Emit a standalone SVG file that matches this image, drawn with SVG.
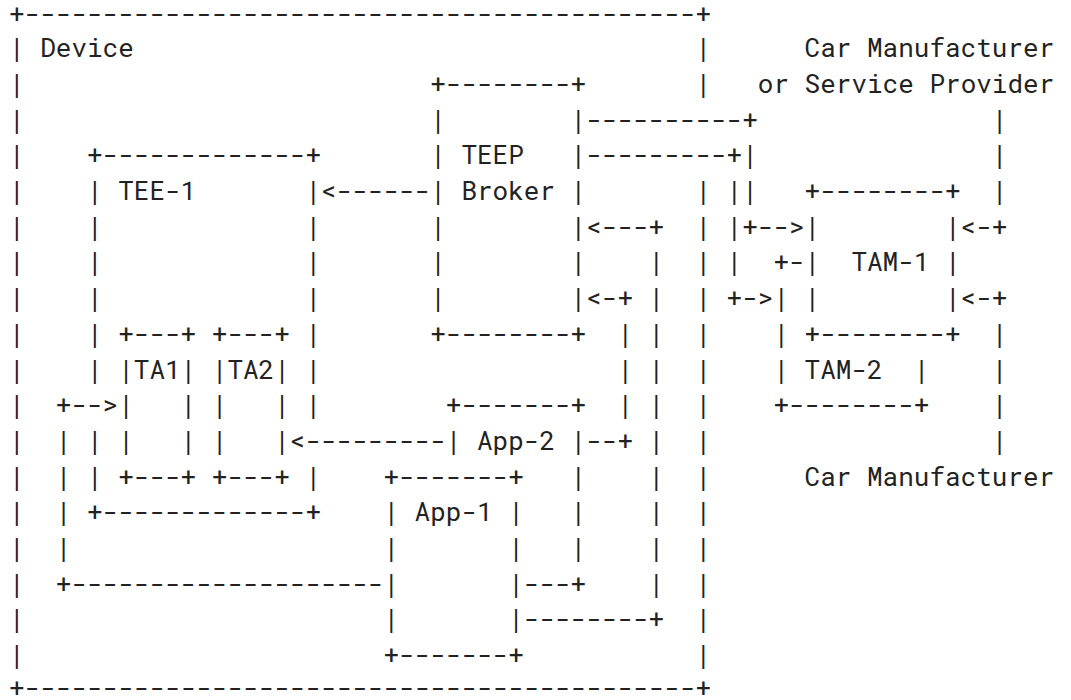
<svg xmlns="http://www.w3.org/2000/svg" width="1071" height="700" viewBox="0 0 1071 700">
<style>
text{font-family:"Roboto Mono","Liberation Mono","DejaVu Sans Mono",monospace;font-size:26px;fill:#222;}
</style>
<rect width="1071" height="700" fill="#fff"/>
<g id="device">
<text x="9" y="23">+-------------------------------------------+</text>
<text x="9" y="697">+-------------------------------------------+</text>
<text x="40.2" y="57.2">Device</text>
<text><tspan x="9" y="57.2">|</tspan><tspan x="9" y="92.9">|</tspan><tspan x="9" y="128.6">|</tspan><tspan x="9" y="164.3">|</tspan><tspan x="9" y="200">|</tspan><tspan x="9" y="235.7">|</tspan><tspan x="9" y="271.4">|</tspan><tspan x="9" y="307.1">|</tspan><tspan x="9" y="342.8">|</tspan><tspan x="9" y="378.5">|</tspan><tspan x="9" y="414.2">|</tspan><tspan x="9" y="449.9">|</tspan><tspan x="9" y="485.6">|</tspan><tspan x="9" y="521.3">|</tspan><tspan x="9" y="557">|</tspan><tspan x="9" y="592.7">|</tspan><tspan x="9" y="628.4">|</tspan><tspan x="9" y="664.1">|</tspan></text>
<text><tspan x="695.4" y="57.2">|</tspan><tspan x="695.4" y="92.9">|</tspan><tspan x="695.4" y="200">|</tspan><tspan x="695.4" y="235.7">|</tspan><tspan x="695.4" y="271.4">|</tspan><tspan x="695.4" y="307.1">|</tspan><tspan x="695.4" y="342.8">|</tspan><tspan x="695.4" y="378.5">|</tspan><tspan x="695.4" y="414.2">|</tspan><tspan x="695.4" y="449.9">|</tspan><tspan x="695.4" y="485.6">|</tspan><tspan x="695.4" y="521.3">|</tspan><tspan x="695.4" y="557">|</tspan><tspan x="695.4" y="592.7">|</tspan><tspan x="695.4" y="628.4">|</tspan><tspan x="695.4" y="664.1">|</tspan></text>
</g>
<g id="teep-broker">
<text x="430.2" y="92.9">+--------+</text>
<text x="430.2" y="342.8">+--------+</text>
<text x="461.4" y="164.3">TEEP</text>
<text x="461.4" y="200">Broker</text>
<text><tspan x="430.2" y="128.6">|</tspan><tspan x="430.2" y="164.3">|</tspan><tspan x="430.2" y="200">|</tspan><tspan x="430.2" y="235.7">|</tspan><tspan x="430.2" y="271.4">|</tspan><tspan x="430.2" y="307.1">|</tspan></text>
<text><tspan x="570.6" y="128.6">|</tspan><tspan x="570.6" y="164.3">|</tspan><tspan x="570.6" y="200">|</tspan><tspan x="570.6" y="235.7">|</tspan><tspan x="570.6" y="271.4">|</tspan><tspan x="570.6" y="307.1">|</tspan></text>
</g>
<g id="tee-1">
<text x="87" y="164.3">+-------------+</text>
<text x="87" y="521.3">+-------------+</text>
<text x="118.2" y="200">TEE-1</text>
<text><tspan x="87" y="200">|</tspan><tspan x="87" y="235.7">|</tspan><tspan x="87" y="271.4">|</tspan><tspan x="87" y="307.1">|</tspan><tspan x="87" y="342.8">|</tspan><tspan x="87" y="378.5">|</tspan><tspan x="87" y="449.9">|</tspan><tspan x="87" y="485.6">|</tspan></text>
<text><tspan x="305.4" y="200">|</tspan><tspan x="305.4" y="235.7">|</tspan><tspan x="305.4" y="271.4">|</tspan><tspan x="305.4" y="307.1">|</tspan><tspan x="305.4" y="342.8">|</tspan><tspan x="305.4" y="378.5">|</tspan><tspan x="305.4" y="414.2">|</tspan><tspan x="305.4" y="485.6">|</tspan></text>
</g>
<g id="ta1">
<text x="118.2" y="342.8">+---+</text>
<text x="118.2" y="378.5">|TA1|</text>
<text x="118.2" y="485.6">+---+</text>
<text><tspan x="118.2" y="414.2">|</tspan><tspan x="118.2" y="449.9">|</tspan><tspan x="180.6" y="414.2">|</tspan><tspan x="180.6" y="449.9">|</tspan></text>
</g>
<g id="ta2">
<text x="211.8" y="342.8">+---+</text>
<text x="211.8" y="378.5">|TA2|</text>
<text x="211.8" y="485.6">+---+</text>
<text><tspan x="211.8" y="414.2">|</tspan><tspan x="211.8" y="449.9">|</tspan><tspan x="274.2" y="414.2">|</tspan><tspan x="274.2" y="449.9">|</tspan></text>
</g>
<g id="app-2">
<text x="445.8" y="414.2">+-------+</text>
<text x="445.8" y="449.9">|</text>
<text x="477" y="449.9">App-2</text>
<text><tspan x="570.6" y="449.9">|</tspan><tspan x="570.6" y="485.6">|</tspan><tspan x="570.6" y="521.3">|</tspan><tspan x="570.6" y="557">|</tspan></text>
<text x="523.8" y="592.7">---+</text>
</g>
<g id="app-1">
<text x="383.4" y="485.6">+-------+</text>
<text x="383.4" y="664.1">+-------+</text>
<text x="414.6" y="521.3">App-1</text>
<text><tspan x="383.4" y="521.3">|</tspan><tspan x="383.4" y="557">|</tspan><tspan x="383.4" y="592.7">|</tspan><tspan x="383.4" y="628.4">|</tspan></text>
<text><tspan x="508.2" y="521.3">|</tspan><tspan x="508.2" y="557">|</tspan><tspan x="508.2" y="592.7">|</tspan><tspan x="508.2" y="628.4">|</tspan></text>
</g>
<g id="tam-1">
<text x="804.6" y="200">+--------+</text>
<text x="804.6" y="342.8">+--------+</text>
<text x="851.4" y="271.4">TAM-1</text>
<text><tspan x="804.6" y="235.7">|</tspan><tspan x="804.6" y="271.4">|</tspan><tspan x="804.6" y="307.1">|</tspan><tspan x="945" y="235.7">|</tspan><tspan x="945" y="271.4">|</tspan><tspan x="945" y="307.1">|</tspan></text>
</g>
<g id="tam-2">
<text x="773.4" y="271.4">+-</text>
<text x="773.4" y="414.2">+--------+</text>
<text x="804.6" y="378.5">TAM-2</text>
<text><tspan x="773.4" y="307.1">|</tspan><tspan x="773.4" y="342.8">|</tspan><tspan x="773.4" y="378.5">|</tspan><tspan x="913.8" y="378.5">|</tspan></text>
</g>
<g id="car-manufacturer-or-service-provider">
<text x="804.6" y="57.2">Car Manufacturer</text>
<text x="757.8" y="92.9">or Service Provider</text>
</g>
<g id="car-manufacturer">
<text x="804.6" y="485.6">Car Manufacturer</text>
</g>
<g id="connectors">
<text x="321" y="200">&lt;------</text>
<text x="586.2" y="128.6">----------+</text>
<text><tspan x="742.2" y="164.3">|</tspan><tspan x="742.2" y="200">|</tspan></text>
<text x="742.2" y="235.7">+--&gt;</text>
<text x="586.2" y="164.3">---------+</text>
<text><tspan x="726.6" y="200">|</tspan><tspan x="726.6" y="235.7">|</tspan><tspan x="726.6" y="271.4">|</tspan></text>
<text x="726.6" y="307.1">+-&gt;</text>
<text x="586.2" y="235.7">&lt;---+</text>
<text><tspan x="648.6" y="271.4">|</tspan><tspan x="648.6" y="307.1">|</tspan><tspan x="648.6" y="342.8">|</tspan><tspan x="648.6" y="378.5">|</tspan><tspan x="648.6" y="414.2">|</tspan><tspan x="648.6" y="449.9">|</tspan><tspan x="648.6" y="485.6">|</tspan><tspan x="648.6" y="521.3">|</tspan><tspan x="648.6" y="557">|</tspan><tspan x="648.6" y="592.7">|</tspan></text>
<text x="523.8" y="628.4">--------+</text>
<text x="586.2" y="307.1">&lt;-+</text>
<text><tspan x="617.4" y="342.8">|</tspan><tspan x="617.4" y="378.5">|</tspan><tspan x="617.4" y="414.2">|</tspan></text>
<text x="586.2" y="449.9">--+</text>
<text x="289.8" y="449.9">&lt;---------</text>
<text x="55.8" y="414.2">+--&gt;</text>
<text><tspan x="55.8" y="449.9">|</tspan><tspan x="55.8" y="485.6">|</tspan><tspan x="55.8" y="521.3">|</tspan><tspan x="55.8" y="557">|</tspan></text>
<text x="55.8" y="592.7">+--------------------</text>
<text><tspan x="991.8" y="128.6">|</tspan><tspan x="991.8" y="164.3">|</tspan><tspan x="991.8" y="200">|</tspan></text>
<text x="960.6" y="235.7">&lt;-+</text>
<text><tspan x="991.8" y="342.8">|</tspan><tspan x="991.8" y="378.5">|</tspan><tspan x="991.8" y="414.2">|</tspan><tspan x="991.8" y="449.9">|</tspan></text>
<text x="960.6" y="307.1">&lt;-+</text>
</g>
</svg>
